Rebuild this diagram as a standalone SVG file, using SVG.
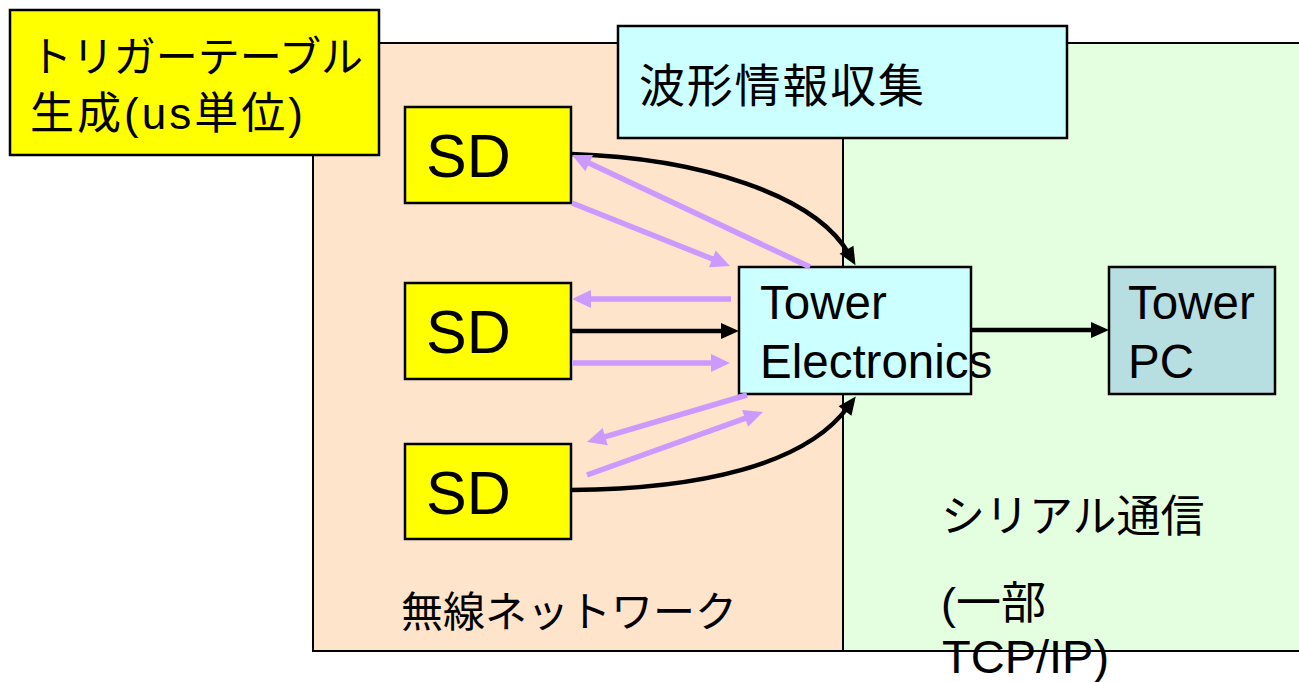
<svg xmlns="http://www.w3.org/2000/svg" width="1299" height="682" viewBox="0 0 1299 682">
<style>
text{font-family:"Liberation Sans","Noto Sans CJK JP",sans-serif;fill:#000}
.box{stroke:#000;stroke-width:2.5}
.region{stroke:#000;stroke-width:2}
.blk{fill:none;stroke:#000;stroke-width:4.5}
.pur{fill:none;stroke:#CC99FF;stroke-width:5.5}
</style>
<defs>
<marker id="ab" markerUnits="userSpaceOnUse" markerWidth="18" markerHeight="16" refX="5" refY="8" orient="auto" overflow="visible">
<path d="M0,0 L18,8 L0,16 z" fill="#000"/>
</marker>
<marker id="ap" markerUnits="userSpaceOnUse" markerWidth="19" markerHeight="18" refX="5" refY="9" orient="auto" overflow="visible">
<path d="M0,0 L19,9 L0,18 z" fill="#CC99FF"/>
</marker>
</defs>
<rect width="1299" height="682" fill="#fff"/>
<g id="wireless-region">
<rect class="region" x="313" y="43" width="530" height="608" fill="#FFE4CC"/>
<text x="401" y="627" font-size="42">無線ネットワーク</text>
</g>
<g id="serial-region">
<rect class="region" x="843" y="43" width="470" height="608" fill="#E4FEE0"/>
<text x="941" y="532" font-size="44">シリアル通信</text>
<text x="941" y="619" font-size="45">(一部</text>
<text x="942" y="673" font-size="47">TCP/IP)</text>
</g>
<g id="trigger-label">
<rect class="box" x="10" y="10" width="369" height="145" fill="#FFFF00" stroke-width="3"/>
<text x="30" y="72" font-size="42" textLength="333" lengthAdjust="spacing">トリガーテーブル</text>
<text x="30" y="129" font-size="44" textLength="273" lengthAdjust="spacing">生成(us単位)</text>
</g>
<g id="waveform-label">
<rect class="box" x="618" y="26" width="449" height="112" fill="#CCFFFF" stroke-width="3"/>
<text x="639" y="102" font-size="46" textLength="285" lengthAdjust="spacing">波形情報収集</text>
</g>
<g id="sd1">
<rect class="box" x="405" y="107" width="166" height="96" fill="#FFFF00"/>
<text x="426" y="177" font-size="61">SD</text>
</g>
<g id="sd2">
<rect class="box" x="405" y="283" width="166" height="96" fill="#FFFF00"/>
<text x="426" y="353" font-size="61">SD</text>
</g>
<g id="sd3">
<rect class="box" x="405" y="444" width="166" height="95" fill="#FFFF00"/>
<text x="426" y="514" font-size="61">SD</text>
</g>
<g id="tower-electronics">
<rect class="box" x="739" y="267" width="232" height="127" fill="#CCFFFF"/>
<text x="760" y="319" font-size="47.5">Tower</text>
<text x="760" y="378" font-size="47.5">Electronics</text>
</g>
<g id="tower-pc">
<rect class="box" x="1109" y="267" width="166" height="127" fill="#B7DEE0"/>
<text x="1128" y="319" font-size="47.5">Tower</text>
<text x="1128" y="378" font-size="47.5">PC</text>
</g>
<g id="connectors">
<path class="blk" d="M571,154 C700,158 815,195 849,254" marker-end="url(#ab)"/>
<path class="blk" d="M571,331 L726,331" marker-end="url(#ab)"/>
<path class="blk" d="M571,490 C700,489 805,465 848,407" marker-end="url(#ab)"/>
<path class="blk" d="M971,330 L1096,330" marker-end="url(#ab)"/>
<path class="pur" d="M810,267 L584.7,161" marker-end="url(#ap)"/>
<path class="pur" d="M572,203 L717,260.8" marker-end="url(#ap)"/>
<path class="pur" d="M731,299 L586,299" marker-end="url(#ap)"/>
<path class="pur" d="M572,363 L716,363" marker-end="url(#ap)"/>
<path class="pur" d="M747,395 L600.4,438.1" marker-end="url(#ap)"/>
<path class="pur" d="M587,475 L749.8,416.7" marker-end="url(#ap)"/>
</g>
</svg>
